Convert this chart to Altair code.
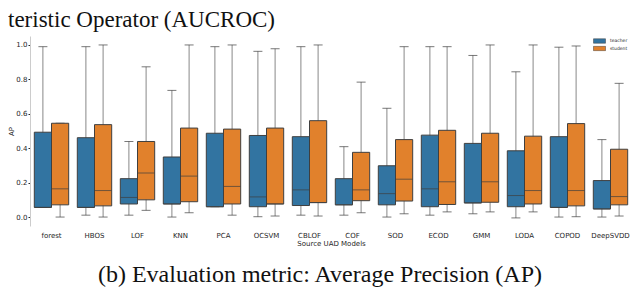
import altair as alt
import pandas as pd

models = ["forest", "HBOS", "LOF", "KNN", "PCA", "OCSVM", "CBLOF", "COF",
          "SOD", "ECOD", "GMM", "LODA", "COPOD", "DeepSVDD"]
roles = ["teacher", "student"]

teacher_lo = [0.056, 0.011, 0.011, 0.000, 0.060, 0.002, 0.011, 0.011, 0.000, 0.011, 0.019, -0.005, 0.000, 0.000]
teacher_q1 = [0.056, 0.056, 0.076, 0.076, 0.060, 0.060, 0.067, 0.071, 0.071, 0.060, 0.082, 0.060, 0.056, 0.047]
teacher_med = [0.056, 0.056, 0.114, 0.076, 0.060, 0.117, 0.158, 0.071, 0.136, 0.164, 0.082, 0.125, 0.056, 0.047]
teacher_q3 = [0.493, 0.461, 0.223, 0.349, 0.487, 0.474, 0.467, 0.223, 0.298, 0.476, 0.428, 0.385, 0.467, 0.212]
teacher_hi = [0.990, 0.990, 0.439, 0.736, 0.990, 0.963, 0.990, 0.409, 0.632, 0.990, 0.939, 0.844, 0.987, 0.450]

student_lo = [0.000, 0.000, 0.039, 0.025, 0.011, 0.006, 0.006, 0.025, 0.019, 0.030, 0.030, 0.030, 0.002, 0.006]
student_q1 = [0.071, 0.065, 0.100, 0.089, 0.076, 0.076, 0.084, 0.095, 0.093, 0.073, 0.086, 0.076, 0.065, 0.071]
student_med = [0.164, 0.154, 0.256, 0.238, 0.178, 0.076, 0.084, 0.158, 0.220, 0.205, 0.205, 0.154, 0.154, 0.119]
student_q3 = [0.545, 0.537, 0.439, 0.517, 0.511, 0.517, 0.560, 0.376, 0.450, 0.504, 0.487, 0.470, 0.543, 0.394]
student_hi = [0.545, 1.000, 0.873, 1.000, 1.000, 0.978, 1.000, 0.784, 0.990, 0.990, 1.000, 1.000, 0.994, 0.777]

y_ticks = [0.0, 0.2, 0.4, 0.6, 0.8, 1.0]
top_text = "teristic Operator (AUCROC)"
caption_text = "(b) Evaluation metric: Average Precision (AP)"

rows = []
for i, m in enumerate(models):
    rows.append(dict(model=m, role="teacher", lo=teacher_lo[i], q1=teacher_q1[i],
                     med=teacher_med[i], q3=teacher_q3[i], hi=teacher_hi[i]))
    rows.append(dict(model=m, role="student", lo=student_lo[i], q1=student_q1[i],
                     med=student_med[i], q3=student_q3[i], hi=student_hi[i]))
df = pd.DataFrame(rows)

W, H = 602, 190
ydom = [-0.052, 1.052]
FONT = "DejaVu Sans"
TXT = "#262626"
EDGE = "#3f3f3f"

x = alt.X("model:N", sort=models,
          scale=alt.Scale(paddingInner=0.2, paddingOuter=0.1),
          axis=alt.Axis(title="Source UAD Models", labelAngle=0, domain=False, ticks=False,
                        labelFontSize=7, titleFontSize=7, labelPadding=5, titlePadding=1,
                        labelFont=FONT, titleFont=FONT, labelColor=TXT, titleColor=TXT,
                        titleFontWeight="normal"))
xo = alt.XOffset("role:N", sort=roles, scale=alt.Scale(domain=roles, paddingInner=0.0))
yscale = alt.Scale(domain=ydom, nice=False, zero=False)
yaxis = alt.Axis(values=y_ticks, format=".1f", title="AP", grid=False,
                 labelFontSize=7, titleFontSize=7, labelFont=FONT, titleFont=FONT,
                 labelColor=TXT, titleColor=TXT, titleFontWeight="normal",
                 domainColor="#cccccc", tickColor=TXT, tickSize=2, labelPadding=1,
                 titlePadding=1, labelOverlap=False, labelBound=False, labelFlush=False)


def Y(field):
    return alt.Y(field, scale=yscale, axis=yaxis)


base = alt.Chart(df)

whisk = base.mark_rule(color="#888888", strokeWidth=1).encode(
    x=x, xOffset=xo, y=Y("lo:Q"), y2="hi:Q")
cap_lo = base.mark_tick(color=EDGE, size=9, thickness=1).encode(
    x=x, xOffset=xo, y=Y("lo:Q"))
cap_hi = base.mark_tick(color=EDGE, size=9, thickness=1).encode(
    x=x, xOffset=xo, y=Y("hi:Q"))
box = base.mark_bar(stroke=EDGE, strokeWidth=1).encode(
    x=x, xOffset=xo, y=Y("q1:Q"), y2="q3:Q",
    color=alt.Color("role:N", scale=alt.Scale(domain=roles, range=["#3274a1", "#e1812c"]),
                    legend=alt.Legend(title=None, orient="none", legendX=563, legendY=2,
                                      symbolType="M-1,-0.37H1V0.37H-1Z", symbolSize=144,
                                      symbolStrokeColor=EDGE, symbolStrokeWidth=0.5,
                                      labelFontSize=4.5, labelFont=FONT, labelColor=TXT,
                                      clipHeight=6, rowPadding=1.5, labelOffset=4,
                                      symbolOpacity=1)))
med = base.mark_tick(color=EDGE, size=17, thickness=1).encode(
    x=x, xOffset=xo, y=Y("med:Q"))

top = alt.Chart(pd.DataFrame({"t": [top_text]})).mark_text(
    font="Liberation Serif", fontSize=23, align="left", baseline="alphabetic", color="#111111"
).encode(text="t:N", x=alt.value(-22), y=alt.value(-9))
cap = alt.Chart(pd.DataFrame({"t": [caption_text]})).mark_text(
    font="Liberation Serif", fontSize=24, align="center", baseline="alphabetic", color="#111111"
).encode(text="t:N", x=alt.value(290), y=alt.value(246))

chart = alt.layer(whisk, cap_lo, cap_hi, box, med, top, cap).properties(
    width=W, height=H,
    autosize=alt.AutoSizeParams(type="none"),
    padding={"left": 22, "top": 28, "right": 0, "bottom": 61},
    background="white",
).configure_view(stroke=None)

chart.save("out.html", embed_options={"renderer": "svg", "actions": False})
